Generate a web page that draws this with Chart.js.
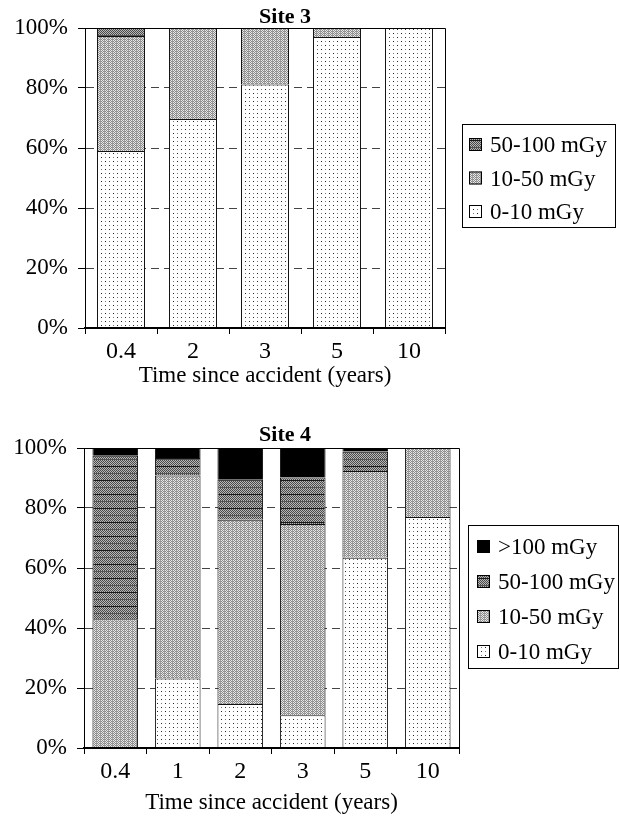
<!DOCTYPE html>
<html>
<head>
<meta charset="utf-8">
<title>Site 3 / Site 4 dose distribution</title>
<script src="https://cdn.jsdelivr.net/npm/chart.js@4.4.0/dist/chart.umd.min.js"></script>
<style>
  body { margin: 0; background: #fff; }
  .panel { position: absolute; left: 0; width: 620px; height: 410px; }
</style>
</head>
<body>
<div class="panel" style="top:0"><canvas id="site3" width="620" height="410"></canvas></div>
<div class="panel" style="top:410px"><canvas id="site4" width="620" height="410"></canvas></div>
<script>
// Share of people in each dose band (%)
const site3Years = ['0.4', '2', '3', '5', '10'];
const site3Low = [59, 69.7, 81.2, 97, 100];      // 0-10 mGy
const site3Mid = [38.3, 30.3, 18.8, 3, 0];       // 10-50 mGy
const site3High = [2.7, 0, 0, 0, 0];             // 50-100 mGy

const site4Years = ['0.4', '1', '2', '3', '5', '10'];
const site4Low = [0, 23.2, 14.7, 10.9, 63.4, 77];
const site4Mid = [42.9, 67.6, 61.4, 63.8, 28.9, 23];
const site4High = [54.5, 5.9, 13.5, 15.5, 6.5, 0];
const site4Top = [2.6, 3.3, 10.4, 9.8, 1.2, 0];  // >100 mGy

const doseLabels = ['0-10 mGy', '10-50 mGy', '50-100 mGy', '>100 mGy'];
const axisTitle = 'Time since accident (years)';

const SERIF = "'Liberation Serif', 'Times New Roman', serif";

// little bitmap fills to mimic the printed hatching
function makePattern(w, h, paint) {
    const c = document.createElement('canvas');
    c.width = w; c.height = h;
    const g = c.getContext('2d');
    paint(g);
    return g.createPattern(c, 'repeat');
}

const dotFill = makePattern(8, 8, g => {
    g.fillStyle = '#fff'; g.fillRect(0, 0, 8, 8);
    g.fillStyle = '#222'; g.fillRect(1, 1, 1, 1); g.fillRect(5, 5, 1, 1);
    g.fillStyle = '#777'; g.fillRect(5, 1, 1, 1); g.fillRect(1, 5, 1, 1);
});

const lightFill = makePattern(4, 4, g => {
    for (let y = 0; y < 4; y++) {
        for (let x = 0; x < 4; x++) {
            g.fillStyle = (x + y) % 2 === 0 ? '#8a8a8a' : '#e8e8e8';
            g.fillRect(x, y, 1, 1);
        }
    }
    g.fillStyle = '#9a9a9a'; g.fillRect(0, 0, 1, 4);
});

const darkFill = makePattern(8, 14, g => {
    for (let y = 0; y < 14; y++) {
        for (let x = 0; x < 8; x++) {
            g.fillStyle = (x + y) % 2 === 0 ? '#4a4a4a' : '#b8b8b8';
            g.fillRect(x, y, 1, 1);
        }
    }
    g.fillStyle = '#1a1a1a'; g.fillRect(0, 0, 8, 1);
    g.fillStyle = '#555'; g.fillRect(0, 7, 8, 1);
});

// frame, title and boxed legend drawn at fixed spots
const chartExtras = {
    id: 'chartExtras',
    afterDatasetsDraw(chart) {
        const { ctx, chartArea: a } = chart;
        ctx.save();
        ctx.strokeStyle = '#000';
        ctx.lineWidth = 1;
        ctx.beginPath();
        ctx.moveTo(a.left, a.top + 0.5);
        ctx.lineTo(a.right + 0.5, a.top + 0.5);
        ctx.lineTo(a.right + 0.5, a.bottom);
        ctx.stroke();
        ctx.restore();
    },
    afterDraw(chart, args, o) {
        const ctx = chart.ctx;
        ctx.save();
        ctx.fillStyle = '#000';
        ctx.font = 'bold 22px ' + SERIF;
        ctx.textAlign = 'center';
        ctx.textBaseline = 'middle';
        ctx.fillText(o.title, o.titleX, o.titleY);

        const L = o.legend;
        ctx.lineWidth = 1;
        ctx.strokeStyle = '#000';
        ctx.strokeRect(L.left + 0.5, L.top + 0.5, L.width, L.height);
        ctx.font = '23px ' + SERIF;
        ctx.textAlign = 'left';
        const sets = chart.data.datasets.slice().reverse();
        sets.forEach((ds, i) => {
            const cy = L.top + L.firstRow + i * L.rowGap;
            ctx.fillStyle = ds.backgroundColor;
            ctx.fillRect(L.left + L.swatchX, cy - 7, 13, 13);
            ctx.strokeRect(L.left + L.swatchX + 0.5, cy - 6.5, 12, 12);
            ctx.fillStyle = '#000';
            ctx.fillText(ds.label, L.left + L.textX, cy + 1);
        });
        ctx.restore();
    }
};

function doseSet(label, data, fill) {
    return { label, data, backgroundColor: fill, borderColor: '#111', borderWidth: 1 };
}

function buildOptions(cfg) {
    return {
        responsive: false,
        animation: false,
        events: [],
        layout: { padding: { top: cfg.top, right: cfg.right, left: 0, bottom: 0 } },
        datasets: { bar: { categoryPercentage: 1, barPercentage: cfg.barPct } },
        plugins: {
            legend: { display: false },
            tooltip: { enabled: false },
            chartExtras: { title: cfg.title, titleX: 285, titleY: cfg.titleY, legend: cfg.legend }
        },
        scales: {
            x: {
                stacked: true,
                grid: { offset: true, drawOnChartArea: false, tickLength: 6, tickColor: '#000', tickWidth: 1 },
                border: { color: '#000', width: 2, z: 1 },
                ticks: { color: '#000', padding: 3, font: { family: SERIF, size: 24 } },
                title: {
                    display: true, text: axisTitle, color: '#000',
                    font: { family: SERIF, size: 23 }, padding: { top: 0, bottom: cfg.titlePad }
                },
                afterFit: s => { s.height = cfg.xHeight; }
            },
            y: {
                stacked: true, min: 0, max: 100,
                ticks: {
                    stepSize: 20, color: '#000', padding: 10,
                    font: { family: SERIF, size: 23 },
                    callback: v => v + '%'
                },
                grid: { color: '#444', lineWidth: 1, tickLength: 7, tickColor: '#000' },
                border: { color: '#000', width: 1, dash: [8, 5] },
                afterFit: s => { s.width = cfg.yWidth; }
            }
        }
    };
}

new Chart(document.getElementById('site3'), {
    type: 'bar',
    data: {
        labels: site3Years,
        datasets: [
            doseSet(doseLabels[0], site3Low, dotFill),
            doseSet(doseLabels[1], site3Mid, lightFill),
            doseSet(doseLabels[2], site3High, darkFill)
        ]
    },
    options: buildOptions({
        title: 'Site 3', titleY: 17, top: 28, right: 175, yWidth: 85, xHeight: 82,
        titlePad: 20, barPct: 0.667,
        legend: { left: 462, top: 124, width: 153, height: 103, firstRow: 21, rowGap: 33.5, swatchX: 7, textX: 28 }
    }),
    plugins: [chartExtras]
});

new Chart(document.getElementById('site4'), {
    type: 'bar',
    data: {
        labels: site4Years,
        datasets: [
            doseSet(doseLabels[0], site4Low, dotFill),
            doseSet(doseLabels[1], site4Mid, lightFill),
            doseSet(doseLabels[2], site4High, darkFill),
            doseSet(doseLabels[3], site4Top, '#000')
        ]
    },
    options: buildOptions({
        title: 'Site 4', titleY: 25, top: 38, right: 161, yWidth: 84, xHeight: 72,
        titlePad: 3, barPct: 0.73,
        legend: { left: 468, top: 115, width: 150, height: 143, firstRow: 22, rowGap: 35, swatchX: 9, textX: 30 }
    }),
    plugins: [chartExtras]
});
</script>
</body>
</html>
